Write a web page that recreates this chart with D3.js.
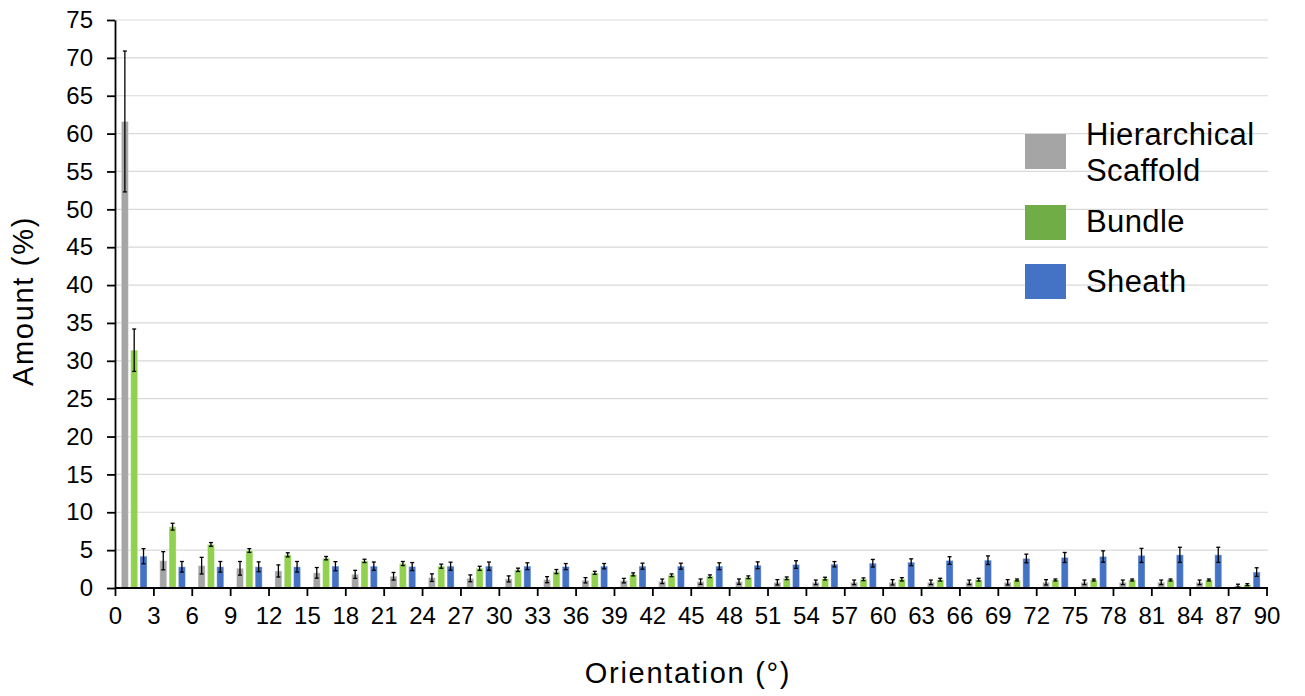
<!DOCTYPE html>
<html>
<head>
<meta charset="utf-8">
<script src="https://cdn.jsdelivr.net/npm/d3@7"></script>
<style>
  body { margin: 0; background: #fff; }
  svg { font-family: "Liberation Sans", Arial, sans-serif; }
</style>
</head>
<body>
<svg id="chart" width="1305" height="696"></svg>
<script>
// bins of 3 degrees, 0-90
var binStarts = d3.range(0, 90, 3);
var xTicks = d3.range(0, 91, 3);
var yTicks = d3.range(0, 76, 5);

var seriesNames = ["Hierarchical Scaffold", "Bundle", "Sheath"];

var scaffold = [61.6, 3.6, 2.95, 2.6, 2.25, 2.0, 1.8, 1.55, 1.37, 1.28, 1.2, 1.1, 1.02, 0.97, 0.88,
                0.84, 0.84, 0.75, 0.75, 0.75, 0.75, 0.75, 0.75, 0.75, 0.75, 0.75, 0.75, 0.75, 0.75, 0.3];
var scaffoldErr = [9.3, 1.2, 1.1, 0.9, 0.8, 0.7, 0.53, 0.5, 0.5, 0.45, 0.4, 0.4, 0.35, 0.3, 0.3,
                   0.35, 0.35, 0.35, 0.3, 0.3, 0.35, 0.3, 0.3, 0.35, 0.35, 0.3, 0.3, 0.3, 0.3, 0.2];

var bundle = [31.4, 8.1, 5.75, 4.95, 4.38, 3.94, 3.58, 3.23, 2.88, 2.6, 2.4, 2.17, 2.0, 1.8, 1.68,
              1.55, 1.42, 1.28, 1.24, 1.15, 1.15, 1.1, 1.1, 1.06, 1.06, 1.06, 1.06, 1.06, 1.06, 0.44];
var bundleErr = [2.8, 0.45, 0.25, 0.25, 0.27, 0.22, 0.22, 0.27, 0.27, 0.27, 0.22, 0.27, 0.2, 0.2, 0.18,
                 0.18, 0.18, 0.18, 0.18, 0.18, 0.22, 0.18, 0.18, 0.13, 0.13, 0.13, 0.13, 0.13, 0.13, 0.13];

var sheath = [4.2, 2.8, 2.8, 2.8, 2.8, 2.88, 2.88, 2.83, 2.88, 2.88, 2.88, 2.83, 2.88, 2.88, 2.88,
              2.88, 3.0, 3.1, 3.14, 3.27, 3.4, 3.63, 3.67, 3.9, 4.03, 4.16, 4.3, 4.38, 4.38, 2.1];
var sheathErr = [1.0, 0.7, 0.7, 0.65, 0.7, 0.6, 0.55, 0.53, 0.53, 0.55, 0.45, 0.4, 0.35, 0.4, 0.4,
                 0.45, 0.45, 0.5, 0.35, 0.5, 0.45, 0.5, 0.57, 0.57, 0.66, 0.75, 0.93, 1.0, 1.0, 0.57];

var barColors = ["#a5a5a5", "#92d050", "#4472c4"];
var legendColors = ["#a5a5a5", "#70ad47", "#4472c4"];

function drawChart() {
  var svg = d3.select("#chart");
  var left = 115, right = 1266.5, top = 20, bottom = 588;

  var x = d3.scaleLinear().domain([0, 90]).range([left, right]);
  var y = d3.scaleLinear().domain([0, 75]).range([bottom, top]);
  var inner = d3.scaleBand()
                .domain(seriesNames)
                .range([-14, 14])
                .paddingInner(0.25)
                .paddingOuter(0.125);

  // gridlines
  svg.append("g")
      .selectAll("line")
      .data(yTicks.filter(d => d > 0))
      .enter()
      .append("line")
      .attr("x1", left)
      .attr("x2", 1268)
      .attr("y1", d => y(d))
      .attr("y2", d => y(d))
      .attr("stroke", "#d9d9d9")
      .attr("stroke-width", 1.2);

  var rows = [];
  var vals = [scaffold, bundle, sheath];
  var errs = [scaffoldErr, bundleErr, sheathErr];
  for (var i = 0; i < binStarts.length; i++) {
    for (var s = 0; s < seriesNames.length; s++) {
      rows.push({
        bin: binStarts[i],
        series: seriesNames[s],
        idx: s,
        value: vals[s][i],
        err: errs[s][i]
      });
    }
  }

  var bars = svg.append("g");
  bars.selectAll("rect")
      .data(rows)
      .enter()
      .append("rect")
      .attr("x", d => x(d.bin + 1.5) + inner(d.series))
      .attr("y", d => y(d.value))
      .attr("width", inner.bandwidth())
      .attr("height", d => bottom - y(d.value))
      .attr("fill", d => barColors[d.idx])
      .attr("stroke", "rgba(255,255,255,0.35)")
      .attr("stroke-width", 1);

  // error bars
  var eb = svg.append("g")
              .attr("stroke", "#000")
              .attr("stroke-width", 1.3);
  var cx = d => x(d.bin + 1.5) + inner(d.series) + inner.bandwidth() / 2;
  eb.selectAll(".v")
      .data(rows)
      .enter()
      .append("line")
      .attr("x1", cx)
      .attr("x2", cx)
      .attr("y1", d => y(d.value + d.err))
      .attr("y2", d => y(d.value - d.err));
  eb.selectAll(".t")
      .data(rows.concat(rows))
      .enter()
      .append("line")
      .attr("x1", d => cx(d) - 2)
      .attr("x2", d => cx(d) + 2)
      .attr("y1", (d, i) => i < rows.length ? y(d.value + d.err) : y(d.value - d.err))
      .attr("y2", (d, i) => i < rows.length ? y(d.value + d.err) : y(d.value - d.err));

  // axes
  var xAxis = svg.append("g")
      .attr("transform", "translate(0," + bottom + ")")
      .call(d3.axisBottom(x).tickValues(xTicks).tickSize(8).tickPadding(11).tickSizeOuter(0));
  var yAxis = svg.append("g")
      .attr("transform", "translate(" + left + ",0)")
      .call(d3.axisLeft(y).tickValues(yTicks).tickSize(8).tickPadding(14).tickSizeOuter(0));

  [xAxis, yAxis].forEach(a => {
    a.select(".domain").attr("stroke", "#000").attr("stroke-width", 1.8);
    a.selectAll(".tick line").attr("stroke", "#000").attr("stroke-width", 1.8);
    a.selectAll(".tick text")
      .attr("font-size", "24px")
      .attr("font-family", "'Liberation Sans', Arial, sans-serif")
      .attr("fill", "#000");
  });
  xAxis.select(".domain").attr("d", "M" + left + ",0H1268");

  svg.append("text")
      .attr("transform", "translate(33,301) rotate(-90)")
      .attr("text-anchor", "middle")
      .attr("font-size", "29px")
      .attr("letter-spacing", "1.7px")
      .text("Amount (%)");

  svg.append("text")
      .attr("x", 688)
      .attr("y", 683)
      .attr("text-anchor", "middle")
      .attr("font-size", "29px")
      .attr("letter-spacing", "1.7px")
      .text("Orientation (°)");

  // legend
  var legend = svg.append("g");
  var boxY = [134, 205, 264];
  legend.selectAll("rect")
      .data(seriesNames)
      .enter()
      .append("rect")
      .attr("x", 1025)
      .attr("y", (d, i) => boxY[i])
      .attr("width", 41)
      .attr("height", 35)
      .attr("fill", (d, i) => legendColors[i]);

  var labelLines = [["Hierarchical", "Scaffold"], ["Bundle"], ["Sheath"]];
  var baselines = [[145, 181], [232], [292]];
  labelLines.forEach((lines, i) => {
    lines.forEach((t, j) => {
      legend.append("text")
          .attr("x", 1086)
          .attr("y", baselines[i][j])
          .attr("font-size", "31px")
          .attr("letter-spacing", "0.4px")
          .text(t);
    });
  });
}

drawChart();
</script>
</body>
</html>
